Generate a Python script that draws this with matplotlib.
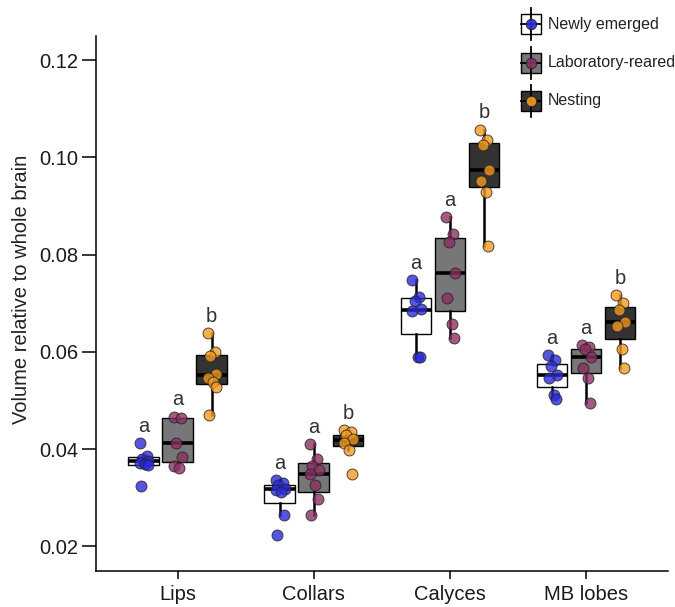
import numpy as np
import matplotlib
matplotlib.use('Agg')
import matplotlib.pyplot as plt
from matplotlib.patches import Rectangle
from matplotlib.lines import Line2D

plt.rcParams['font.family'] = ['Liberation Sans', 'DejaVu Sans']

regions = ['Lips', 'Collars', 'Calyces', 'MB lobes']
groups = ['Newly emerged', 'Laboratory-reared', 'Nesting']

# points, one list per region and group
newly = [
    [0.0413, 0.0385, 0.0380, 0.0376, 0.0372, 0.0369, 0.0367, 0.0324],
    [0.0336, 0.0330, 0.0326, 0.0319, 0.0315, 0.0312, 0.0265, 0.0223],
    [0.0747, 0.0713, 0.0705, 0.0689, 0.0684, 0.0590, 0.0590],
    [0.0594, 0.0583, 0.0570, 0.0553, 0.0547, 0.0511, 0.0502],
]
lab = [
    [0.0467, 0.0464, 0.0413, 0.0384, 0.0366, 0.0361],
    [0.0411, 0.0380, 0.0365, 0.0358, 0.0348, 0.0327, 0.0297, 0.0265],
    [0.0878, 0.0843, 0.0826, 0.0762, 0.0710, 0.0658, 0.0629],
    [0.0614, 0.0609, 0.0605, 0.0590, 0.0567, 0.0547, 0.0495],
]
nesting = [
    [0.0638, 0.0599, 0.0592, 0.0555, 0.0547, 0.0538, 0.0528, 0.0470],
    [0.0439, 0.0435, 0.0428, 0.0420, 0.0413, 0.0399, 0.0348],
    [0.1057, 0.1035, 0.1025, 0.0974, 0.0952, 0.0928, 0.0817],
    [0.0716, 0.0701, 0.0687, 0.0662, 0.0653, 0.0605, 0.0566],
]

# box stats (q1, median, q3, whisker low, whisker high) per group
q1 = [[0.0367, 0.0289, 0.0636, 0.0527],
      [0.0373, 0.0312, 0.0684, 0.0557],
      [0.0533, 0.0406, 0.0938, 0.0627]]
med = [[0.0375, 0.0317, 0.0686, 0.0553],
       [0.0413, 0.0348, 0.0762, 0.0590],
       [0.0552, 0.0418, 0.0974, 0.0662]]
q3 = [[0.0383, 0.0326, 0.0710, 0.0576],
      [0.0463, 0.0371, 0.0835, 0.0605],
      [0.0594, 0.0428, 0.1030, 0.0693]]
wlo = [[0.0367, 0.0265, 0.0590, 0.0507],
       [0.0373, 0.0265, 0.0629, 0.0495],
       [0.0470, 0.0399, 0.0817, 0.0566]]
whi = [[0.0383, 0.0336, 0.0747, 0.0594],
       [0.0463, 0.0411, 0.0878, 0.0614],
       [0.0638, 0.0439, 0.1057, 0.0716]]

letters = [['a', 'a', 'a', 'a'],
           ['a', 'a', 'a', 'a'],
           ['b', 'b', 'b', 'b']]

box_colors = ['white', '#777777', '#333333']
dot_colors = ['#2a2ad8', '#8c2f62', '#f59a20']
offsets = [-0.25, 0, 0.25]
jit = [-0.03, 0.025, -0.01, 0.035, -0.025, 0.012, 0.03, -0.018]

fig = plt.figure(figsize=(6.75, 6.07), dpi=100)
ax = fig.add_axes([0.1422, 0.0598, 0.847, 0.8814])

all_points = [newly, lab, nesting]
for g in range(3):
    stats = []
    pos = []
    for r in range(4):
        stats.append({'med': med[g][r], 'q1': q1[g][r], 'q3': q3[g][r],
                      'whislo': wlo[g][r], 'whishi': whi[g][r], 'fliers': []})
        pos.append(r + 1 + offsets[g])
    ax.bxp(stats, positions=pos, widths=0.225, patch_artist=True,
           showcaps=False, showfliers=False,
           boxprops=dict(facecolor=box_colors[g], edgecolor='black', linewidth=1.0),
           medianprops=dict(color='black', linewidth=2.6, solid_capstyle='butt'),
           whiskerprops=dict(color='black', linewidth=1.8),
           zorder=2)
    for r in range(4):
        vals = np.array(all_points[g][r])
        xs = r + 1 + offsets[g] + np.array([jit[i % len(jit)] for i in range(len(vals))])
        ax.scatter(xs, vals, s=62, color=dot_colors[g], alpha=0.8,
                   edgecolors='#222222', linewidths=0.7, zorder=3)
        top = max(vals.max(), whi[g][r])
        ax.annotate(letters[g][r], (r + 1 + offsets[g], top), xytext=(0, 8),
                    textcoords='offset points', ha='center', va='baseline',
                    fontsize=14.5, color='#333333')

ax.set_xlim(0.4, 4.6)
ax.set_ylim(0.015, 0.125)
ax.set_xticks([1, 2, 3, 4])
ax.set_xticklabels(regions)
ax.set_yticks([0.02, 0.04, 0.06, 0.08, 0.10, 0.12])
ax.set_yticklabels(['0.02', '0.04', '0.06', '0.08', '0.10', '0.12'])
ax.set_ylabel('Volume relative to whole brain', fontsize=14.5, color='#222222')
ax.yaxis.set_label_coords(-0.113, 0.525)
for s in ['top', 'right']:
    ax.spines[s].set_visible(False)
for s in ['left', 'bottom']:
    ax.spines[s].set_linewidth(1.1)
ax.tick_params(axis='y', length=10, width=1.1, labelsize=14.5, labelcolor='#1a1a1a', pad=3)
ax.tick_params(axis='x', length=6, width=1.1, labelsize=14.5, labelcolor='#1a1a1a', pad=4)

# legend drawn by hand in figure pixels
W, H = 675, 607
for i, name in enumerate(groups):
    cy = H - (24 + 38.5 * i)
    cx = 531
    fig.add_artist(Line2D([cx / W, cx / W], [(cy - 16) / H, (cy + 16) / H],
                          transform=fig.transFigure, color='black', lw=1.3))
    fig.add_artist(Rectangle(((cx - 10) / W, (cy - 10) / H), 20 / W, 20 / H,
                             transform=fig.transFigure, facecolor=box_colors[i],
                             edgecolor='black', lw=1.0))
    fig.add_artist(Line2D([(cx - 10) / W, (cx + 10) / W], [cy / H, cy / H],
                          transform=fig.transFigure, color='black', lw=1.3))
    fig.add_artist(Line2D([cx / W], [cy / H], transform=fig.transFigure,
                          marker='o', markersize=7.5, color=dot_colors[i],
                          markeredgecolor='#222222', markeredgewidth=0.7, alpha=0.9))
    fig.text(548 / W, cy / H, name, fontsize=11.5, color='#222222', va='center', ha='left')

fig.savefig('out.png', dpi=100)
